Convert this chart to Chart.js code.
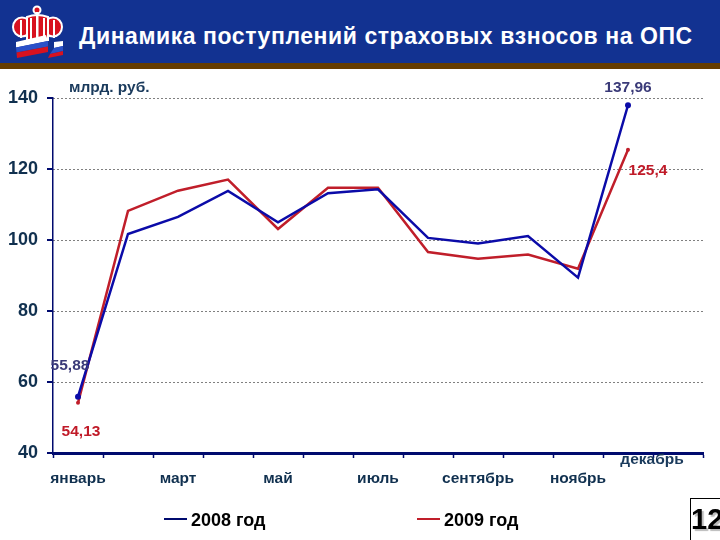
<!DOCTYPE html>
<html lang="ru">
<head>
<meta charset="utf-8">
<title>Динамика поступлений страховых взносов на ОПС</title>
<script src="https://cdn.jsdelivr.net/npm/chart.js@4"></script>
<style>
  html, body { margin: 0; padding: 0; background: #fff; }
  #page { position: relative; width: 720px; height: 540px; overflow: hidden; font-family: "Liberation Sans", Arial, sans-serif; }
  #chart { position: absolute; left: 0; top: 0; }
  #header { position: absolute; left: 0; top: 0; width: 720px; height: 63px; background: #123291; border-bottom: 6px solid #653c00; }
  #header svg { position: absolute; left: 0; top: 0; }
  #title { position: absolute; left: 79px; top: 22px; color: #fff; font-weight: bold; font-size: 23px; line-height: 28px; letter-spacing: 0.56px; white-space: nowrap; }
  #pageNo { position: absolute; left: 690px; top: 498px; width: 40px; height: 50px; box-sizing: border-box; border: 1.5px solid #000; font-weight: bold; font-size: 29px; line-height: 40px; color: #000; text-shadow: 2px 2px 1px #bbb; white-space: nowrap; }
</style>
</head>
<body>
<div id="page">
  <canvas id="chart" width="720" height="540"></canvas>
  <div id="header">
    <svg width="75" height="63" viewBox="0 0 75 63">
      <g fill="#d8121f" stroke="#fff" stroke-width="2">
        <ellipse cx="22" cy="27" rx="9" ry="9.5"/>
        <ellipse cx="53" cy="27" rx="9" ry="9.5"/>
        <path d="M27 17 Q37 13 48 17 L48 40 L27 40 Z"/>
        <circle cx="37" cy="10" r="3.5"/>
      </g>
      <g fill="#fff">
        <rect x="20" y="20" width="2" height="18"/>
        <rect x="30" y="18" width="2" height="22"/>
        <rect x="36" y="12" width="2.5" height="28"/>
        <rect x="43" y="18" width="2" height="22"/>
        <rect x="53" y="20" width="2" height="18"/>
      </g>
      <path d="M16 42 L46 35 L48 41 L16 47.5 Z" fill="#fff"/>
      <path d="M16 47.5 L48 41 L48 46.5 L16.5 52.5 Z" fill="#2a50c8"/>
      <path d="M16.5 52.5 L48 46.5 L48 52 L17 58 Z" fill="#d8121f"/>
      <path d="M54 42 L63 41 L63 46 L54 48 Z" fill="#fff"/>
      <path d="M54 48 L63 46 L63 51 L50 54 Z" fill="#2a50c8"/>
      <path d="M48 58 L50 54 L63 51 L63 55 Z" fill="#d8121f"/>
    </svg>
    <div id="title">Динамика поступлений страховых взносов на ОПС</div>
  </div>
  <div id="pageNo">12</div>
</div>
<script>
const monthLabels = ['январь', '', 'март', '', 'май', '', 'июль', '', 'сентябрь', '', 'ноябрь', '', ''];
const lastMonthLabel = 'декабрь';
const series2008 = [55.88, 101.7, 106.5, 113.8, 105, 113.2, 114.3, 100.6, 99, 101.1, 89.4, 137.96, null];
const series2009 = [54.13, 108.2, 113.9, 117, 103.1, 114.7, 114.7, 96.6, 94.7, 95.9, 91.9, 125.4, null];
const unitLabel = 'млрд. руб.';

const navy = '#000a6e';
const tickText = '#10304f';
const fontFamily = '"Liberation Sans", Arial, sans-serif';

function endpointRadius(r) {
  return ctx => (ctx.dataIndex === 0 || ctx.dataIndex === 11) ? r : 0;
}

// value labels, the unit caption, the detached December label, y ticks and the legend row
const annotations = {
  id: 'annotations',
  afterDatasetsDraw(chart) {
    const { ctx, scales: { x, y } } = chart;
    const fmt = v => String(v).replace('.', ',');
    ctx.save();

    ctx.strokeStyle = navy;
    ctx.lineWidth = 2;
    y.ticks.forEach((t, i) => {
      const py = y.getPixelForTick(i);
      ctx.beginPath();
      ctx.moveTo(y.right - 6, py);
      ctx.lineTo(y.right, py);
      ctx.stroke();
    });

    ctx.textBaseline = 'middle';
    ctx.textAlign = 'center';
    ctx.font = 'bold 15.5px ' + fontFamily;

    ctx.fillStyle = '#3a3a78';
    ctx.fillText(fmt(series2008[11]), x.getPixelForValue(11), y.getPixelForValue(series2008[11]) - 18);
    ctx.fillText(fmt(series2008[0]), x.getPixelForValue(0) - 8, y.getPixelForValue(series2008[0]) - 31);

    ctx.fillStyle = '#c01a28';
    ctx.fillText(fmt(series2009[11]), x.getPixelForValue(11) + 20, y.getPixelForValue(series2009[11]) + 21);
    ctx.fillText(fmt(series2009[0]), x.getPixelForValue(0) + 3, y.getPixelForValue(series2009[0]) + 29);

    ctx.fillStyle = '#1a3a5c';
    ctx.fillText(lastMonthLabel, x.getPixelForValue(12) - 26, 460);
    ctx.textAlign = 'left';
    ctx.fillText(unitLabel, 69, 88);

    // legend
    const lineStarts = [164, 417];
    chart.data.datasets.forEach((ds, i) => {
      ctx.strokeStyle = i === 0 ? navy : ds.borderColor;
      ctx.lineWidth = 2;
      ctx.beginPath();
      ctx.moveTo(lineStarts[i], 519);
      ctx.lineTo(lineStarts[i] + 23, 519);
      ctx.stroke();
      ctx.fillStyle = '#000';
      ctx.font = 'bold 18px ' + fontFamily;
      ctx.fillText(ds.label, lineStarts[i] + 27, 521);
    });
    ctx.restore();
  },
};

new Chart(document.getElementById('chart'), {
  type: 'line',
  data: {
    labels: monthLabels,
    datasets: [
      {
        label: '2008 год',
        data: series2008,
        borderColor: '#0b0ba8',
        backgroundColor: '#0b0ba8',
        borderWidth: 2.5,
        tension: 0,
        pointRadius: endpointRadius(3),
        pointBorderWidth: 0,
      },
      {
        label: '2009 год',
        data: series2009,
        borderColor: '#c01e2a',
        backgroundColor: '#c01e2a',
        borderWidth: 2.5,
        tension: 0,
        pointRadius: endpointRadius(2),
        pointBorderWidth: 0,
      },
    ],
  },
  options: {
    responsive: false,
    animation: false,
    layout: { padding: { top: 98, left: 0, right: 17, bottom: 47 } },
    plugins: { legend: { display: false }, tooltip: { enabled: false } },
    scales: {
      x: {
        type: 'category',
        offset: true,
        afterFit: scale => { scale.height = 40; },
        border: { color: navy, width: 3 },
        grid: { offset: true, drawOnChartArea: false, color: navy, tickLength: 5, tickWidth: 1.5 },
        ticks: {
          color: tickText,
          font: { family: fontFamily, size: 15.5, weight: 'bold' },
          autoSkip: false,
          maxRotation: 0,
          minRotation: 0,
          padding: 11,
        },
      },
      y: {
        min: 40,
        max: 140,
        afterFit: scale => { scale.width = 53; },
        border: { color: navy, width: 1.5, dash: [1, 3] },
        grid: {
          color: c => (c.tick.value === 40 ? 'rgba(0,0,0,0)' : '#000'),
          lineWidth: 1,
          drawTicks: false,
        },
        ticks: {
          stepSize: 20,
          color: tickText,
          font: { family: fontFamily, size: 18, weight: 'bold' },
          padding: 15,
        },
      },
    },
  },
  plugins: [annotations],
});
</script>
</body>
</html>
